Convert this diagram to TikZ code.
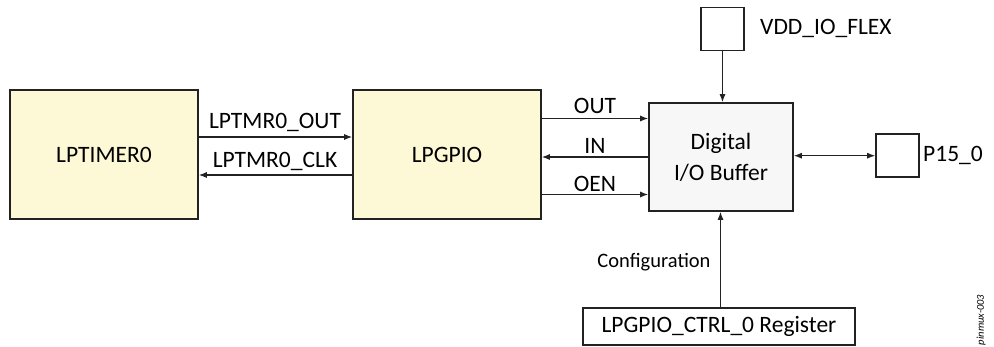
\documentclass[tikz,border=0pt]{standalone}
\usepackage{fontspec}
\setmainfont{Carlito}
\usetikzlibrary{arrows.meta}
\definecolor{boxyellow}{HTML}{FDF8D6}
\definecolor{boxgray}{HTML}{F7F7F7}
\definecolor{edge}{HTML}{222222}
\tikzset{
  blk/.style={draw=edge, line width=1.6pt, rectangle, inner sep=0pt, align=center, font=\fontsize{23.5}{28}\selectfont},
  ybox/.style={blk, fill=boxyellow, minimum width=188pt, minimum height=129pt},
  pad/.style={blk, fill=white, minimum width=43pt, minimum height=43pt},
  lbl/.style={font=\fontsize{23.5}{28}\selectfont, inner sep=0pt},
  conn/.style={draw=edge, line width=1.1pt, -{Latex[length=8pt,width=6pt]}},
  bconn/.style={draw=edge, line width=1.1pt, {Latex[length=8pt,width=6pt]}-{Latex[length=8pt,width=6pt]}}
}
\begin{document}
\begin{tikzpicture}[x=1pt,y=-1pt]
\useasboundingbox (0,0) rectangle (994,347);
\node[ybox] (tmr) at (104,154.5) {LPTIMER0};
\node[ybox] (gpio) at (447,154.5) {LPGPIO};
\node[blk, fill=boxgray, minimum width=144pt, minimum height=108pt] (buf) at (721,157) {Digital\\[3pt]I/O Buffer};
\node[pad] (vdd) at (722.5,29) {};
\node[pad] (pin) at (897.5,155.7) {};
\node[blk, fill=white, minimum width=272pt, minimum height=37pt] (reg) at (719,326.5) {LPGPIO\_CTRL\_0 Register};
\node[lbl, anchor=west] (vddl) at (760,28) {VDD\_IO\_FLEX};
\node[lbl, anchor=west] (pinl) at (923,155) {P15\_0};
% LPTIMER <-> LPGPIO
\coordinate (a1) at (0,137);
\coordinate (a2) at (0,175);
\draw[conn] (tmr.east |- a1) -- (gpio.west |- a1);
\draw[conn] (gpio.west |- a2) -- (tmr.east |- a2);
\node[lbl] (l1) at (275,122) {LPTMR0\_OUT};
\node[lbl] (l2) at (275,161) {LPTMR0\_CLK};
% LPGPIO <-> buffer
\coordinate (b1) at (0,118.5);
\coordinate (b2) at (0,157);
\coordinate (b3) at (0,194.5);
\draw[conn] (gpio.east |- b1) -- (buf.west |- b1);
\draw[conn] (buf.west |- b2) -- (gpio.east |- b2);
\draw[conn] (gpio.east |- b3) -- (buf.west |- b3);
\node[lbl] (o1) at (595,106) {OUT};
\node[lbl] (o2) at (595,146) {IN};
\node[lbl] (o3) at (595,184) {OEN};
% VDD -> buffer
\draw[conn] (vdd.south) -- (vdd.south |- buf.north);
% buffer <-> pin
\draw[bconn] (buf.east |- pin.west) -- (pin.west);
% register -> buffer
\coordinate (c1) at (720.5,0);
\draw[conn] (reg.north -| c1) -- (buf.south -| c1);
\node[lbl, font=\fontsize{20.5}{24}\selectfont] (cfg) at (654,262) {Configuration};
\node[rotate=90, font=\fontsize{10.5}{12}\itshape\selectfont, inner sep=0pt] (tag) at (981,320) {pinmux-003};
\end{tikzpicture}
\end{document}
